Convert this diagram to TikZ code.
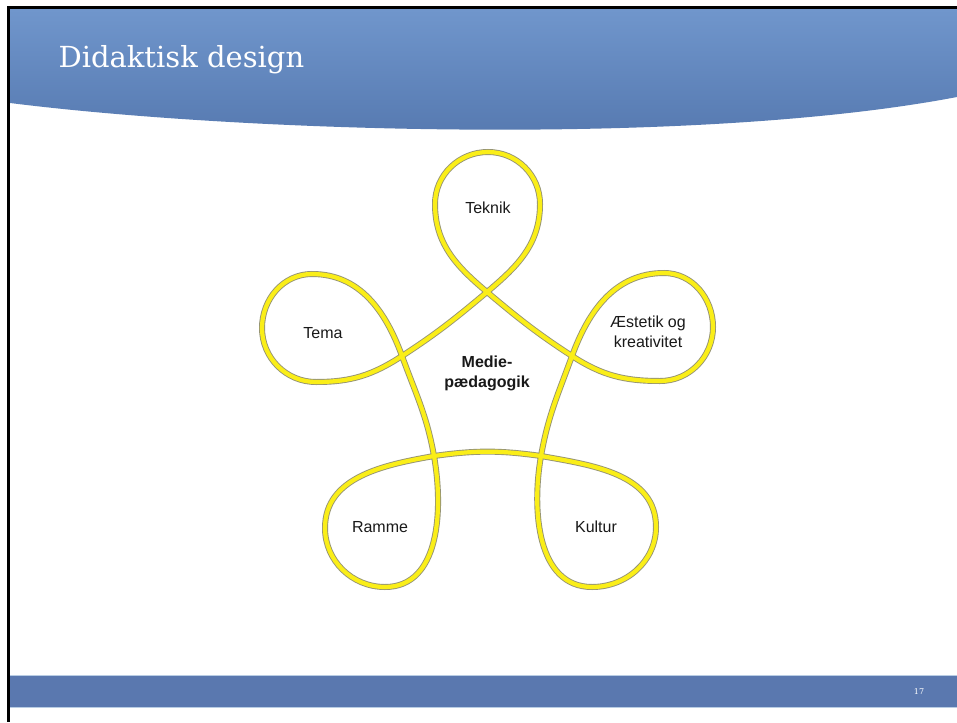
\documentclass[tikz,border=0pt]{standalone}
\usepackage{fontspec}
\setmainfont{Liberation Sans}
\newfontfamily\titlefont{DejaVu Serif}

\definecolor{headtop}{RGB}{112,150,204}
\definecolor{headbottom}{RGB}{84,119,174}
\definecolor{footblue}{RGB}{90,120,175}
\definecolor{footedge}{RGB}{185,205,228}
\definecolor{loopyellow}{RGB}{250,238,24}
\definecolor{loopedge}{RGB}{150,148,115}

% the crossings of the loop band (a regular pentagon)
\def\crossings{
    \coordinate (L) at (402,-356);
    \coordinate (T) at (487,-292);
    \coordinate (R) at (572,-356);
    \coordinate (BR) at (541,-456);
    \coordinate (BL) at (434,-456);
}
% one closed band with five loops, starting and ending in L
\def\flower{(L) to[out=33,in=-140] (T)
    to[out=40,in=-90] (540,-204) to[out=90,in=0] (488,-152)
    to[out=180,in=90] (435,-204) to[out=-90,in=140] (T)
    to[out=-40,in=147] (R)
    to[out=-33,in=180] (660,-381) to[out=0,in=-90] (713,-327)
    to[out=90,in=0] (664,-273) to[out=180,in=70] (R)
    to[out=-110,in=80] (BR)
    to[out=-100,in=180] (592,-587) to[out=0,in=-90] (656,-527)
    to[out=90,in=-10] (BR)
    to[out=172,in=8] (BL)
    to[out=190,in=90] (325,-528) to[out=-90,in=180] (385,-587)
    to[out=0,in=-80] (BL)
    to[out=100,in=-70] (L)
    to[out=110,in=0] (312,-274) to[out=180,in=90] (262,-328)
    to[out=-90,in=180] (316,-382) to[out=0,in=-147] (L)}

\begin{document}
\begin{tikzpicture}[x=1pt,y=1pt,
    looplabel/.style={font=\fontsize{16}{20}\selectfont, align=center, text=black!90},
    centerlabel/.style={looplabel, font=\fontsize{16}{20}\selectfont\bfseries}]
\useasboundingbox (0,0) rectangle (957,-722);
\fill[white] (0,0) rectangle (957,-722);

% The header with its curved lower edge
\shade[top color=headtop, bottom color=headbottom]
    (10,-9) -- (957,-9) -- (957,-97)
    .. controls (700,-146) and (250,-133) .. (10,-103) -- cycle;
\node[anchor=base west, text=white, font=\titlefont\fontsize{29}{34}\selectfont]
    (title) at (55,-68) {Didaktisk design};

% The footer bar
\fill[footblue] (10,-676) rectangle (957,-707);
\draw[footedge, line width=1.2pt] (10,-675.5) -- (957,-675.5)
    (10,-707.5) -- (957,-707.5);
\node[text=white, font=\titlefont\fontsize{8}{10}\selectfont] (pagenum) at (919,-692) {17};

% The black frame on the top and on the left
\fill[black] (7,-6) rectangle (957,-9);
\fill[black] (7,-6) rectangle (10,-722);

% First the grey rim of the band, then the yellow on top of it,
% so the crossings merge into one another.
\crossings
\draw[loopedge, line width=6pt] \flower;
\draw[loopyellow, line width=4.2pt] \flower;

\node[looplabel] (teknik) at (488,-208) {Teknik};
\node[looplabel] (tema) at (323,-333) {Tema};
\node[looplabel] (aestetik) at (648,-332) {Æstetik og\\kreativitet};
\node[looplabel] (ramme) at (380,-527) {Ramme};
\node[looplabel] (kultur) at (596,-527) {Kultur};
\node[centerlabel] (medie) at (487,-373) {Medie-\\pædagogik};
\end{tikzpicture}
\end{document}
